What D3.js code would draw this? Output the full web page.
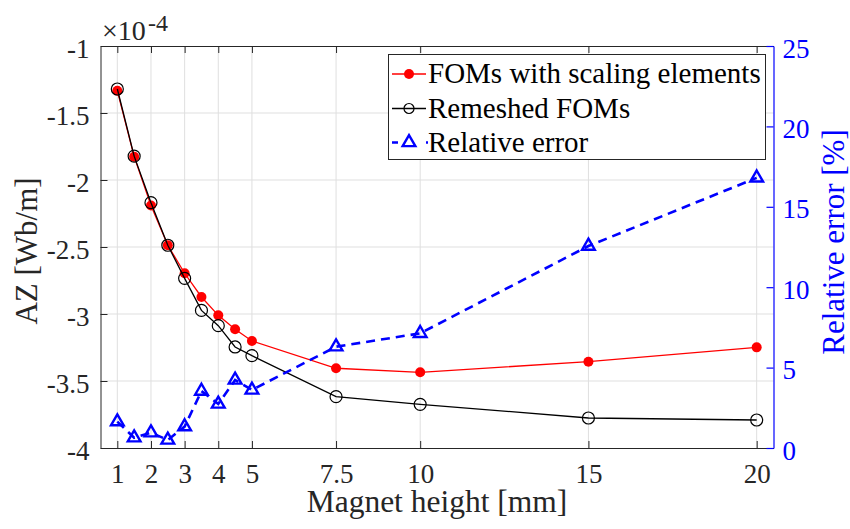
<!DOCTYPE html>
<html>
<head>
<meta charset="utf-8">
<script src="https://cdn.jsdelivr.net/npm/d3@7/dist/d3.min.js"></script>
<style>
  html, body { margin: 0; padding: 0; background: #fff; }
  svg { display: block; }
  text { font-family: "Liberation Serif", "Times New Roman", serif; }
</style>
</head>
<body>
<svg id="chart" width="850" height="529"></svg>
<script>
// ---- data (left axis values are in units of 1e-4 Wb/m) ----
const magnetHeight = [1, 1.5, 2, 2.5, 3, 3.5, 4, 4.5, 5, 7.5, 10, 15, 20];
const fomScaling   = [-1.334, -1.826, -2.190, -2.487, -2.696, -2.873, -3.010, -3.114, -3.201, -3.405, -3.435, -3.356, -3.249];
const remeshed     = [-1.321, -1.822, -2.169, -2.487, -2.734, -2.973, -3.087, -3.246, -3.311, -3.617, -3.674, -3.776, -3.791];
const relError     = [1.64, 0.64, 0.95, 0.50, 1.33, 3.54, 2.74, 4.23, 3.61, 6.30, 7.13, 12.56, 16.80];

const xTicks  = [1, 2, 3, 4, 5, 7.5, 10, 15, 20];
const yLTicks = [-4, -3.5, -3, -2.5, -2, -1.5, -1];
const yRTicks = [0, 5, 10, 15, 20, 25];
const seriesNames = ["FOMs with scaling elements", "Remeshed FOMs", "Relative error"];

// ---- layout ----
const L = 100.5, R = 773.5, T = 46, B = 448;
const axisCol = "#262626", gridCol = "#dfdfdf", blue = "#0000ff", red = "#ff0000";

const x  = d3.scaleLinear().domain([0.5, 20.5]).range([L, R]);
const yL = d3.scaleLinear().domain([-4, -1]).range([B, T]);
const yR = d3.scaleLinear().domain([0, 25]).range([B, T]);

const svg = d3.select("#chart");

// grid
const grid = svg.append("g");
grid.selectAll("line.vx").data(xTicks).join("line")
  .attr("x1", d => x(d)).attr("x2", d => x(d)).attr("y1", T).attr("y2", B)
  .attr("stroke", gridCol).attr("stroke-width", 1);
grid.selectAll("line.hy").data(yLTicks.slice(1, -1)).join("line")
  .attr("x1", L).attr("x2", R).attr("y1", d => yL(d)).attr("y2", d => yL(d))
  .attr("stroke", gridCol).attr("stroke-width", 1);

// axes (ticks inward)
const tickLen = 7;
const axB = svg.append("g").attr("transform", `translate(0,${B})`)
  .call(d3.axisBottom(x).tickValues(xTicks).tickSizeInner(-tickLen).tickSizeOuter(0).tickFormat(d => String(d)));
const axT = svg.append("g").attr("transform", `translate(0,${T})`)
  .call(d3.axisTop(x).tickValues(xTicks).tickSizeInner(-tickLen).tickSizeOuter(0).tickFormat(""));
const axL = svg.append("g").attr("transform", `translate(${L},0)`)
  .call(d3.axisLeft(yL).tickValues(yLTicks).tickSizeInner(-tickLen).tickSizeOuter(0).tickFormat(d => String(d)));
const axR = svg.append("g").attr("transform", `translate(${R},0)`)
  .call(d3.axisRight(yR).tickValues(yRTicks).tickSizeInner(-tickLen).tickSizeOuter(0).tickFormat(d => String(d)));

[axB, axT, axL].forEach(a => {
  a.select(".domain").attr("stroke", axisCol).attr("stroke-width", 1);
  a.selectAll(".tick line").attr("stroke", axisCol).attr("stroke-width", 1);
  a.selectAll(".tick text").attr("fill", axisCol);
});
axR.select(".domain").attr("stroke", blue).attr("stroke-width", 1.2);
axR.selectAll(".tick line").attr("stroke", blue).attr("stroke-width", 1.2);
axR.selectAll(".tick text").attr("fill", blue);

const tickFont = 27;
axB.selectAll(".tick text").attr("font-size", tickFont)
  .attr("y", 0).attr("dy", 0).attr("transform", "translate(0,35)");
axL.selectAll(".tick text").attr("font-size", tickFont)
  .attr("x", -11).attr("dy", 0).attr("transform", "translate(0,11)");
axR.selectAll(".tick text").attr("font-size", tickFont)
  .attr("x", 9).attr("dy", 0).attr("transform", "translate(0,11)");

// exponent label
svg.append("text").attr("x", 102).attr("y", 40).attr("font-size", 28).attr("fill", axisCol)
  .text("\u00d710");
svg.append("text").attr("x", 148).attr("y", 31).attr("font-size", 24).attr("fill", axisCol)
  .text("-4");

// axis labels
svg.append("text").attr("x", (L + R) / 2).attr("y", 512).attr("text-anchor", "middle")
  .attr("font-size", 31.5).attr("fill", axisCol).text("Magnet height [mm]");
svg.append("text").attr("transform", `translate(37,${(T + B) / 2 + 4}) rotate(-90)`).attr("text-anchor", "middle")
  .attr("font-size", 31).attr("fill", axisCol).text("AZ [Wb/m]");
svg.append("text").attr("transform", `translate(844,${(T + B) / 2 - 5}) rotate(-90)`).attr("text-anchor", "middle")
  .attr("font-size", 31).attr("fill", blue).text("Relative error [%]");

// series
const idx = d3.range(magnetHeight.length);
const lineL = vals => d3.line().x(i => x(magnetHeight[i])).y(i => yL(vals[i]));
const lineR = vals => d3.line().x(i => x(magnetHeight[i])).y(i => yR(vals[i]));
const plot = svg.append("g");

plot.append("path").datum(idx).attr("d", lineL(fomScaling))
  .attr("fill", "none").attr("stroke", red).attr("stroke-width", 1.3);
plot.selectAll("circle.red").data(idx).join("circle").attr("class", "red")
  .attr("cx", i => x(magnetHeight[i])).attr("cy", i => yL(fomScaling[i])).attr("r", 5)
  .attr("fill", red);

plot.append("path").datum(idx).attr("d", lineL(remeshed))
  .attr("fill", "none").attr("stroke", "#000").attr("stroke-width", 1.3);
plot.selectAll("circle.blk").data(idx).join("circle").attr("class", "blk")
  .attr("cx", i => x(magnetHeight[i])).attr("cy", i => yL(remeshed[i])).attr("r", 6)
  .attr("fill", "none").attr("stroke", "#000").attr("stroke-width", 1.2);

const tri = d3.symbol().type(d3.symbolTriangle).size(70);
plot.append("path").datum(idx).attr("d", lineR(relError))
  .attr("fill", "none").attr("stroke", blue).attr("stroke-width", 2.6).attr("stroke-dasharray", "9,6");
plot.selectAll("path.tri").data(idx).join("path").attr("class", "tri")
  .attr("transform", i => `translate(${x(magnetHeight[i])},${yR(relError[i])})`)
  .attr("d", tri).attr("fill", "none").attr("stroke", blue).attr("stroke-width", 2.4);

// legend
const lg = svg.append("g");
lg.append("rect").attr("x", 388.5).attr("y", 54.5).attr("width", 377).attr("height", 105)
  .attr("fill", "#fff").attr("stroke", axisCol).attr("stroke-width", 1);
const rowBase = [83, 117.5, 151.5];
const legFont = 29;
seriesNames.forEach((name, k) => {
  const cy = rowBase[k] - 9;
  const g = lg.append("g");
  if (k === 0) {
    g.append("line").attr("x1", 392).attr("x2", 426).attr("y1", cy).attr("y2", cy).attr("stroke", red).attr("stroke-width", 1.3);
    g.append("circle").attr("cx", 409).attr("cy", cy).attr("r", 5).attr("fill", red);
  } else if (k === 1) {
    g.append("line").attr("x1", 392).attr("x2", 426).attr("y1", cy).attr("y2", cy).attr("stroke", "#000").attr("stroke-width", 1.3);
    g.append("circle").attr("cx", 409).attr("cy", cy).attr("r", 5).attr("fill", "none").attr("stroke", "#000").attr("stroke-width", 1.2);
  } else {
    g.append("line").attr("x1", 392).attr("x2", 428).attr("y1", cy).attr("y2", cy).attr("stroke", blue).attr("stroke-width", 2.6).attr("stroke-dasharray", "6,28,2,10");
    g.append("path").attr("transform", `translate(409,${cy})`).attr("d", tri).attr("fill", "none").attr("stroke", blue).attr("stroke-width", 2.4);
  }
  g.append("text").attr("x", 428).attr("y", rowBase[k]).attr("font-size", legFont).attr("fill", "#000").text(name);
});
</script>
</body>
</html>
